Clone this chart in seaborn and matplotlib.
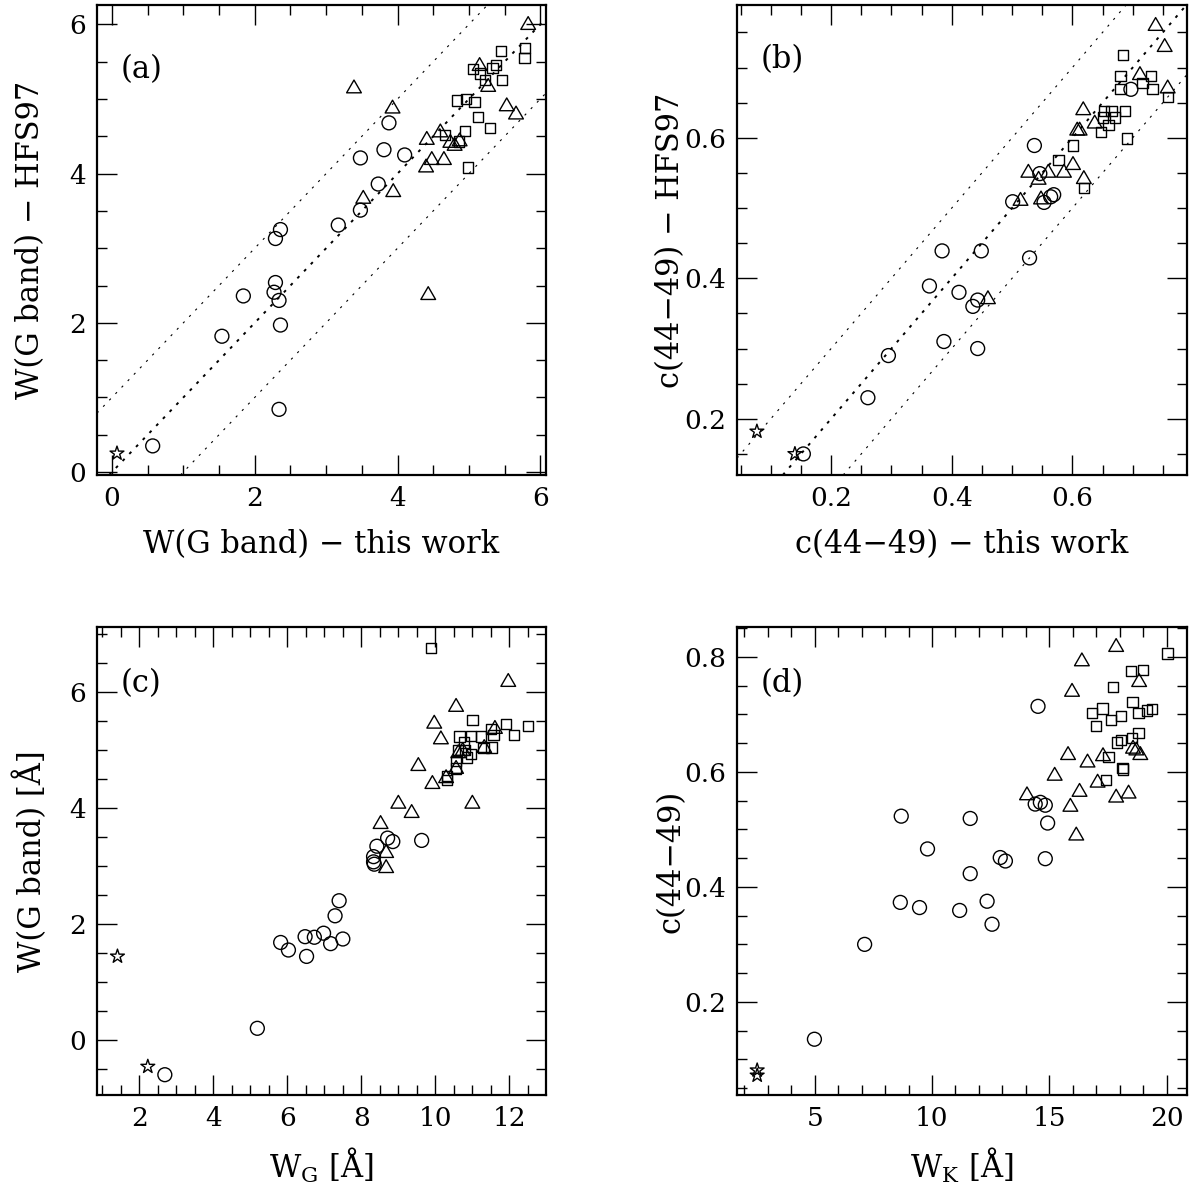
import numpy as np
import pandas as pd
import matplotlib
matplotlib.use("Agg")
import matplotlib.pyplot as plt
import seaborn as sns

sns.set_theme(style="white")
plt.rcParams['font.family'] = ['DejaVu Serif']
plt.rcParams['mathtext.fontset'] = 'dejavuserif'
for k in ['text.color', 'axes.labelcolor', 'xtick.color', 'ytick.color', 'axes.edgecolor']:
    plt.rcParams[k] = 'black'

# ---------------- Panel (a) ----------------
a_circ_x = [0.57, 1.54, 1.84, 2.36, 2.29, 2.29, 2.27, 2.34, 2.36, 2.34, 3.17, 3.48, 3.73, 3.48, 3.81, 4.10, 3.88]
a_circ_y = [0.35, 1.82, 2.36, 3.25, 3.13, 2.54, 2.41, 2.30, 1.97, 0.84, 3.31, 3.51, 3.86, 4.21, 4.32, 4.25, 4.68]
a_tri_x = [3.39, 3.93, 3.52, 3.94, 4.41, 4.48, 4.65, 4.40, 4.60, 4.74, 4.80, 4.87, 5.15, 5.27, 5.53, 5.66, 5.83, 4.43]
a_tri_y = [5.14, 4.87, 3.66, 3.75, 4.45, 4.18, 4.18, 4.08, 4.55, 4.41, 4.37, 4.43, 5.44, 5.16, 4.90, 4.79, 5.99, 2.37]
a_sq_x = [4.67, 4.86, 4.95, 4.99, 5.13, 5.30, 4.83, 4.96, 5.08, 5.06, 5.16, 5.23, 5.33, 5.38, 5.46, 5.45, 5.79, 5.78]
a_sq_y = [4.52, 4.43, 4.57, 4.08, 4.76, 4.61, 4.98, 5.00, 4.96, 5.40, 5.34, 5.25, 5.42, 5.46, 5.25, 5.64, 5.68, 5.55]
a_star_x = [0.07]
a_star_y = [0.25]
a_offsets = [-1.0, 0.0, 1.0]

# ---------------- Panel (b) ----------------
b_circ_x = [0.154, 0.261, 0.295, 0.363, 0.384, 0.412, 0.387, 0.449, 0.443, 0.435, 0.443, 0.529, 0.537,
            0.697, 0.546, 0.569, 0.564, 0.501, 0.553]
b_circ_y = [0.150, 0.230, 0.290, 0.389, 0.439, 0.380, 0.310, 0.439, 0.369, 0.360, 0.300, 0.429, 0.589,
            0.669, 0.549, 0.519, 0.516, 0.509, 0.508]
b_tri_x = [0.460, 0.738, 0.753, 0.712, 0.758, 0.618, 0.637, 0.608, 0.612, 0.601, 0.586, 0.527, 0.560,
           0.544, 0.619, 0.514, 0.548]
b_tri_y = [0.370, 0.759, 0.729, 0.689, 0.670, 0.639, 0.620, 0.610, 0.610, 0.561, 0.550, 0.550, 0.550,
           0.540, 0.541, 0.510, 0.512]
b_sq_x = [0.684, 0.680, 0.730, 0.716, 0.733, 0.680, 0.758, 0.652, 0.665, 0.687, 0.651, 0.671, 0.660,
          0.648, 0.690, 0.601, 0.577, 0.619]
b_sq_y = [0.718, 0.688, 0.688, 0.678, 0.669, 0.669, 0.658, 0.638, 0.638, 0.638, 0.629, 0.629, 0.618,
          0.608, 0.599, 0.589, 0.568, 0.529]
b_star_x = [0.077, 0.140]
b_star_y = [0.182, 0.150]
b_offsets = [-0.1, 0.0, 0.1]

# ---------------- Panel (c) ----------------
c_circ_x = [2.69, 5.19, 5.82, 6.03, 6.48, 6.52, 6.73, 6.98, 7.17, 7.50, 7.29, 7.40,
            8.33, 8.33, 8.35, 8.42, 8.71, 8.85, 9.63]
c_circ_y = [-0.60, 0.20, 1.68, 1.55, 1.78, 1.44, 1.77, 1.84, 1.66, 1.74, 2.14, 2.40,
            3.16, 3.07, 3.03, 3.34, 3.48, 3.42, 3.44]
c_tri_x = [8.67, 8.67, 8.52, 9.00, 9.36, 9.54, 9.92, 11.00, 9.97, 10.15, 10.56, 11.97,
           11.61, 11.32, 10.56, 10.29, 10.62, 10.74]
c_tri_y = [3.22, 2.96, 3.72, 4.07, 3.91, 4.72, 4.41, 4.07, 5.45, 5.18, 5.74, 6.17,
           5.36, 5.03, 4.67, 4.51, 4.94, 4.98]
c_sq_x = [9.88, 11.00, 10.65, 10.96, 11.24, 11.51, 11.57, 11.90, 12.13, 12.50, 10.78, 10.62,
          10.80, 10.96, 10.85, 11.30, 11.52, 10.56, 10.55, 10.31, 10.31]
c_sq_y = [6.76, 5.52, 5.23, 5.24, 5.23, 5.36, 5.26, 5.45, 5.26, 5.41, 5.13, 5.00,
          5.00, 4.93, 4.87, 5.03, 5.04, 4.81, 4.68, 4.55, 4.48]
c_star_x = [1.41, 2.23]
c_star_y = [1.44, -0.46]

# ---------------- Panel (d) ----------------
d_circ_x = [4.99, 7.13, 8.69, 8.65, 9.47, 9.81, 11.18, 11.63, 11.63, 12.35, 12.56, 12.91, 13.13,
            14.52, 14.40, 14.62, 14.83, 14.93, 14.83]
d_circ_y = [0.135, 0.300, 0.523, 0.373, 0.364, 0.466, 0.359, 0.519, 0.423, 0.375, 0.335, 0.451, 0.445,
            0.714, 0.544, 0.547, 0.542, 0.511, 0.449]
d_tri_x = [14.05, 15.23, 15.90, 16.15, 16.29, 15.80, 15.97, 16.39, 16.63, 17.06, 17.29, 17.85, 18.38,
           17.85, 18.83, 18.57, 18.71, 18.88]
d_tri_y = [0.559, 0.593, 0.539, 0.489, 0.565, 0.629, 0.739, 0.792, 0.616, 0.581, 0.627, 0.555, 0.562,
           0.817, 0.756, 0.640, 0.637, 0.629]
d_sq_x = [20.04, 18.49, 18.98, 17.71, 17.27, 16.82, 17.64, 18.07, 17.00, 18.55, 18.80, 19.16, 19.37,
          18.80, 18.52, 18.06, 17.88, 17.53, 18.12, 18.14, 17.42]
d_sq_y = [0.806, 0.776, 0.777, 0.748, 0.710, 0.703, 0.690, 0.697, 0.680, 0.721, 0.703, 0.707, 0.709,
          0.668, 0.659, 0.655, 0.651, 0.626, 0.607, 0.604, 0.586]
d_star_x = [2.55, 2.55]
d_star_y = [0.081, 0.072]

FS = 19
LFS = 22
TRI = (3, 0, 0)
groups_style = {
    "circ": dict(marker="o", s=100),
    "tri": dict(marker=TRI, s=150),
    "sq": dict(marker="s", s=55),
    "star": dict(marker="*", s=110),
}

fig = plt.figure(figsize=(11.92, 11.91), dpi=100)
W, H = 1192, 1191


def make_ax(l, r, t, b):
    return fig.add_axes([l / W, 1 - b / H, (r - l) / W, (b - t) / H])


def draw(ax, data):
    for key, (xs, ys) in data.items():
        st = groups_style[key]
        sns.scatterplot(x=xs, y=ys, ax=ax, marker=st["marker"], s=st["s"],
                        facecolors="none", edgecolor="black", linewidth=1.0,
                        legend=False, zorder=3)
    for coll in ax.collections:
        coll.set_facecolor("none")
        coll.set_edgecolor("black")


def style(ax, xlim, ylim, xmaj, xmin, ymaj, ymin, xlabel, ylabel, letter, letter_y,
          xfmt=None, yfmt=None):
    ax.set_xlim(*xlim)
    ax.set_ylim(*ylim)
    ax.xaxis.set_major_locator(matplotlib.ticker.MultipleLocator(xmaj))
    ax.xaxis.set_minor_locator(matplotlib.ticker.MultipleLocator(xmin))
    ax.yaxis.set_major_locator(matplotlib.ticker.MultipleLocator(ymaj))
    ax.yaxis.set_minor_locator(matplotlib.ticker.MultipleLocator(ymin))
    if xfmt:
        ax.xaxis.set_major_formatter(matplotlib.ticker.FormatStrFormatter(xfmt))
    if yfmt:
        ax.yaxis.set_major_formatter(matplotlib.ticker.FormatStrFormatter(yfmt))
    ax.tick_params(which="both", direction="in", top=True, right=True, bottom=True, left=True,
                   labelsize=FS, width=1.0, color="black", labelcolor="black")
    ax.tick_params(which="major", length=14.5, pad=8)
    ax.tick_params(which="minor", length=7)
    for sp in ax.spines.values():
        sp.set_visible(True)
        sp.set_linewidth(1.6)
        sp.set_color("black")
    bb = ax.get_position()
    wpx = bb.width * W
    hpx = bb.height * H
    ax.set_xlabel(xlabel, fontsize=LFS, va="center")
    ax.set_ylabel(ylabel, fontsize=LFS, va="center")
    ax.xaxis.set_label_coords(0.5, -70 / hpx)
    ax.yaxis.set_label_coords(-66 / wpx, 0.5)
    ax.text(0.053, letter_y, letter, transform=ax.transAxes, fontsize=LFS, va="center", ha="left")
    ax.grid(False)
    ax.set_facecolor("white")


def ref_lines(ax, offsets):
    for off in offsets:
        if off == 0:
            ax.axline((0, off), slope=1, color="black", lw=1.4, ls=(0, (1.5, 3.5)), zorder=1)
        else:
            ax.axline((0, off), slope=1, color="black", lw=0.8, ls=(0, (2, 6)), zorder=1)


axa = make_ax(97, 546, 5, 475)
ref_lines(axa, a_offsets)
draw(axa, {"circ": (a_circ_x, a_circ_y), "tri": (a_tri_x, a_tri_y), "sq": (a_sq_x, a_sq_y),
           "star": (a_star_x, a_star_y)})
style(axa, (-0.21, 6.08), (-0.04, 6.26), 2, 0.5, 2, 0.5,
      "W(G band) − this work", "W(G band) − HFS97", "(a)", 0.862)

axb = make_ax(737, 1187, 5, 475)
ref_lines(axb, b_offsets)
draw(axb, {"circ": (b_circ_x, b_circ_y), "tri": (b_tri_x, b_tri_y), "sq": (b_sq_x, b_sq_y),
           "star": (b_star_x, b_star_y)})
style(axb, (0.044, 0.79), (0.12, 0.789), 0.2, 0.05, 0.2, 0.05,
      "c(44−49) − this work", "c(44−49) − HFS97", "(b)", 0.883, "%.1f", "%.1f")

axc = make_ax(97, 546, 627, 1095)
draw(axc, {"circ": (c_circ_x, c_circ_y), "tri": (c_tri_x, c_tri_y), "sq": (c_sq_x, c_sq_y),
           "star": (c_star_x, c_star_y)})
style(axc, (0.857, 12.99), (-0.95, 7.12), 2, 0.5, 2, 0.5,
      r"W$_\mathrm{G}$ [Å]", "W(G band) [Å]", "(c)", 0.88)

axd = make_ax(737, 1187, 627, 1095)
draw(axd, {"circ": (d_circ_x, d_circ_y), "tri": (d_tri_x, d_tri_y), "sq": (d_sq_x, d_sq_y),
           "star": (d_star_x, d_star_y)})
style(axd, (1.69, 20.87), (0.038, 0.852), 5, 1, 0.2, 0.05,
      r"W$_\mathrm{K}$ [Å]", "c(44−49)", "(d)", 0.88, None, "%.1f")

fig.savefig("out.png", dpi=100, facecolor="white")
